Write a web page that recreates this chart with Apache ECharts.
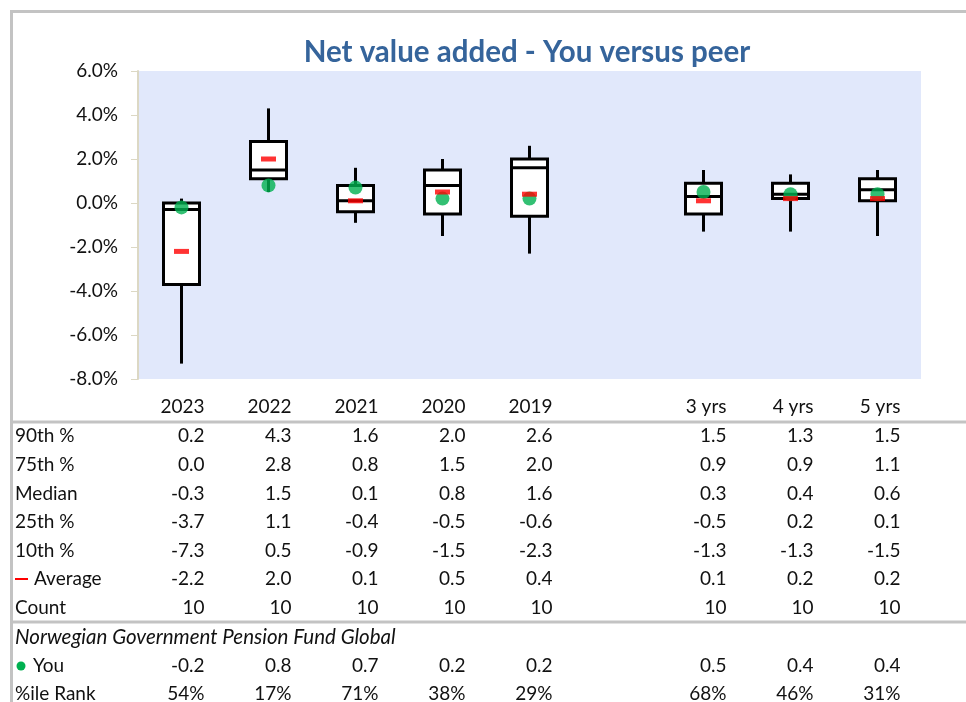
<!DOCTYPE html>
<html lang="en">
<head>
    <meta charset="UTF-8">
    <title>Net value added - You versus peer</title>
    <style>
        *{ padding:0; margin:0; }
        html, body{ width:100%; height:100%; background:#fff; }
        #main{ width:966px; height:702px; }
    </style>
    <script src="https://cdn.jsdelivr.net/npm/echarts@6/dist/echarts.min.js"></script>
</head>
<body>
<div id="main"></div>
<script>
    // categories, with a blank slot between the single years and the multi-year periods
    var categories = ['2023', '2022', '2021', '2020', '2019', '', '3 yrs', '4 yrs', '5 yrs'];
    var p90 = [0.2, 4.3, 1.6, 2.0, 2.6, null, 1.5, 1.3, 1.5];
    var p75 = [0.0, 2.8, 0.8, 1.5, 2.0, null, 0.9, 0.9, 1.1];
    var median = [-0.3, 1.5, 0.1, 0.8, 1.6, null, 0.3, 0.4, 0.6];
    var p25 = [-3.7, 1.1, -0.4, -0.5, -0.6, null, -0.5, 0.2, 0.1];
    var p10 = [-7.3, 0.5, -0.9, -1.5, -2.3, null, -1.3, -1.3, -1.5];
    var average = [-2.2, 2.0, 0.1, 0.5, 0.4, null, 0.1, 0.2, 0.2];
    var count = [10, 10, 10, 10, 10, null, 10, 10, 10];
    var you = [-0.2, 0.8, 0.7, 0.2, 0.2, null, 0.5, 0.4, 0.4];
    var rank = ['54%', '17%', '71%', '38%', '29%', null, '68%', '46%', '31%'];
    var yTicks = [-8, -6, -4, -2, 0, 2, 4, 6];

    var FONT = 'Lato, "Open Sans", sans-serif';
    var chart = echarts.init(document.getElementById('main'));

    var boxData = [];
    categories.forEach(function (c, i) {
        if (p90[i] !== null) boxData.push([i, p10[i], p25[i], median[i], p75[i], p90[i]]);
    });
    function dashOrVal(arr) {
        return arr.map(function (v) { return v === null ? '-' : v; });
    }

    function renderBox(params, api) {
        var x = api.coord([api.value(0), 0])[0];
        var y10 = api.coord([api.value(0), api.value(1)])[1];
        var y25 = api.coord([api.value(0), api.value(2)])[1];
        var yMed = api.coord([api.value(0), api.value(3)])[1];
        var y75 = api.coord([api.value(0), api.value(4)])[1];
        var y90 = api.coord([api.value(0), api.value(5)])[1];
        var w = 36;
        var line = { stroke: '#000', lineWidth: 3 };
        return {
            type: 'group',
            children: [
                { type: 'line', shape: { x1: x, y1: y10, x2: x, y2: y25 }, style: line },
                { type: 'line', shape: { x1: x, y1: y75, x2: x, y2: y90 }, style: line },
                { type: 'rect', shape: { x: x - w / 2, y: y75, width: w, height: y25 - y75 },
                  style: { fill: '#fff', stroke: '#000', lineWidth: 3 } },
                { type: 'line', shape: { x1: x - w / 2, y1: yMed, x2: x + w / 2, y2: yMed }, style: line }
            ]
        };
    }

    var option = {
        animation: false,
        backgroundColor: '#fff',
        title: {
            text: 'Net value added - You versus peer',
            left: 522,
            top: 32,
            textAlign: 'center',
            textStyle: { fontFamily: FONT, fontSize: 29.5, fontWeight: 'bold', color: '#35649b' }
        },
        grid: {
            left: 138, top: 71, width: 783, height: 308,
            show: true, backgroundColor: '#e1e8fb', borderWidth: 0
        },
        xAxis: {
            type: 'category',
            data: categories,
            axisLine: { show: false },
            axisTick: { show: false },
            axisLabel: { show: false },
            splitLine: { show: false }
        },
        yAxis: {
            type: 'value',
            min: yTicks[0],
            max: yTicks[yTicks.length - 1],
            interval: 2,
            axisLine: { show: true, lineStyle: { color: '#dcd8c4', width: 2 } },
            axisTick: { show: true, inside: false, length: 7, lineStyle: { color: '#dcd8c4', width: 1 } },
            axisLabel: {
                margin: 20, fontFamily: FONT, fontSize: 19, color: '#111',
                formatter: function (v) { return v.toFixed(1) + '%'; }
            },
            splitLine: { show: false }
        },
        series: [
            {
                name: 'Peers',
                type: 'custom',
                renderItem: renderBox,
                encode: { x: 0, y: [1, 2, 3, 4, 5] },
                data: boxData,
                z: 2
            },
            {
                name: 'You',
                type: 'scatter',
                symbol: 'circle',
                symbolSize: 14,
                itemStyle: { color: '#00b050' },
                data: dashOrVal(you),
                z: 3
            },
            {
                name: 'Average',
                type: 'scatter',
                symbol: 'rect',
                symbolSize: [15, 5],
                itemStyle: { color: '#ff0000' },
                data: dashOrVal(average),
                z: 4
            }
        ]
    };
    chart.setOption(option);

    // table under the chart, columns placed from the category axis
    var rowY = { head: 407, p90: 436, p75: 465, med: 494, p25: 522, p10: 551, avg: 579, cnt: 608, fund: 637, you: 666, rank: 694 };
    var txt = { fontFamily: FONT, fontSize: 19, fill: '#111' };
    var g = [];
    function addText(x, y, s, align, extra) {
        var st = Object.assign({ text: s, x: x, y: y, textAlign: align, textVerticalAlign: 'middle' }, txt, extra || {});
        g.push({ type: 'text', style: st, z: 10 });
    }
    function fmt1(v) { return v.toFixed(1); }
    var rows = [
        ['head', null, categories, function (v) { return v; }],
        ['p90', '90th %', p90, fmt1],
        ['p75', '75th %', p75, fmt1],
        ['med', 'Median', median, fmt1],
        ['p25', '25th %', p25, fmt1],
        ['p10', '10th %', p10, fmt1],
        ['avg', 'Average', average, fmt1],
        ['cnt', 'Count', count, function (v) { return String(v); }],
        ['you', 'You', you, fmt1],
        ['rank', '%ile Rank', rank, function (v) { return v; }]
    ];
    rows.forEach(function (r) {
        var y = rowY[r[0]];
        if (r[1]) {
            var lx = 15;
            if (r[0] === 'avg') lx = 34;
            if (r[0] === 'you') lx = 33;
            addText(lx, y, r[1], 'left');
        }
        r[2].forEach(function (v, i) {
            if (v === null || v === '') return;
            var cx = chart.convertToPixel({ xAxisIndex: 0 }, categories[i]);
            addText(cx + 23, y, r[3](v), 'right');
        });
    });
    addText(15, rowY.fund, 'Norwegian Government Pension Fund Global', 'left', { fontStyle: 'italic', fontSize: 20.5 });
    // legend keys in the table
    g.push({ type: 'line', shape: { x1: 15, y1: rowY.avg, x2: 28, y2: rowY.avg }, style: { stroke: '#ff0000', lineWidth: 2 }, z: 10 });
    g.push({ type: 'circle', shape: { cx: 21, cy: rowY.you, r: 4.5 }, style: { fill: '#00b050' }, z: 10 });
    // separators and frame
    var grey = { stroke: '#c3c3c3', lineWidth: 3 };
    g.push({ type: 'line', shape: { x1: 10, y1: 422, x2: 966, y2: 422 }, style: grey, z: 10 });
    g.push({ type: 'line', shape: { x1: 10, y1: 622, x2: 966, y2: 622 }, style: grey, z: 10 });
    g.push({ type: 'line', shape: { x1: 10, y1: 11.5, x2: 966, y2: 11.5 }, style: grey, z: 10 });
    g.push({ type: 'line', shape: { x1: 11.5, y1: 10, x2: 11.5, y2: 702 }, style: grey, z: 10 });
    chart.setOption({ graphic: g });
</script>
</body>
</html>
